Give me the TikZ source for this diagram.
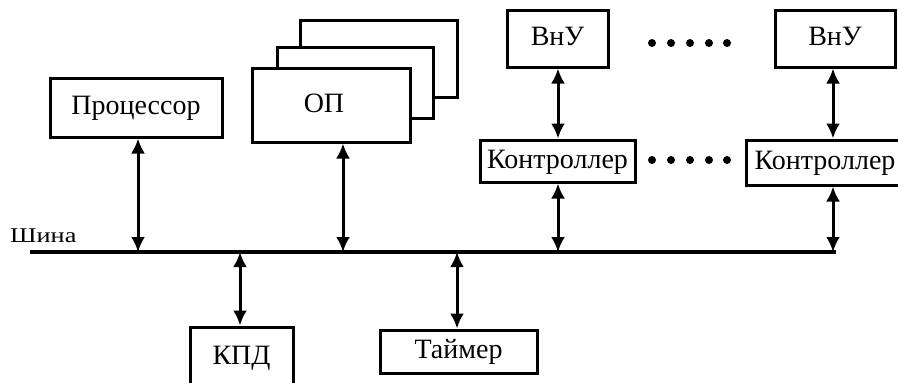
\documentclass[tikz,border=0pt]{standalone}
\usepackage{fontspec}
\setmainfont{Liberation Serif}
\usetikzlibrary{arrows.meta}
\tikzset{
  blk/.style={draw, line width=3pt, fill=white, inner sep=0pt, text height=19pt, text depth=5pt,
    font=\fontsize{28}{32}\selectfont},
  conn/.style={line width=3pt, {Latex[length=15pt,width=14pt]}-{Latex[length=15pt,width=14pt]}},
  busline/.style={line width=3.4pt},
  dotmark/.style={fill=black}
}
\begin{document}
\begin{tikzpicture}[x=1pt, y=-1pt]
\useasboundingbox (0,0) rectangle (898,383);
\clip (0,0) rectangle (898,383);
% memory stack
\draw[line width=3pt, fill=white] (300,20) rectangle (457,97);
\draw[line width=3pt, fill=white] (277,47) rectangle (433,118);
\node[blk, minimum width=158pt, minimum height=74pt] (op) at (331,105) {\hspace*{-14pt}ОП};
\node[blk, minimum width=172pt, minimum height=59pt] (proc) at (136,107.5) {Процессор};
\node[blk, minimum width=101pt, minimum height=57pt] (vnu1) at (557.5,38.5) {ВнУ};
\node[blk, minimum width=120pt, minimum height=57pt] (vnu2) at (835,38.5) {ВнУ};
\node[blk, minimum width=155pt, minimum height=42pt] (ctl1) at (557.5,161) {Контроллер};
\node[blk, minimum width=158pt, minimum height=45pt] (ctl2) at (825,162.5) {Контроллер};
\node[blk, minimum width=157pt, minimum height=43pt] (tmr) at (458.5,351.5) {Таймер};
\node[blk, minimum width=103pt, minimum height=60pt] (kpd) at (241.5,357) {КПД};
% bus
\coordinate (busL) at (30,252);
\coordinate (busR) at (836,252);
\draw[busline] (busL) -- (busR);
\node[font=\fontsize{21}{24}\selectfont, anchor=base west, inner sep=0pt] (shina) at (10,242) {\scalebox{1.25}[1]{Шина}};
\coordinate (bproc) at (138,252);
\coordinate (bop) at (343,252);
\coordinate (bkpd) at (240,252);
\coordinate (btmr) at (457,252);
\coordinate (bc1) at (558,252);
\coordinate (bc2) at (833,252);
\draw[conn] (bproc |- proc.south) -- (bproc);
\draw[conn] (bop |- op.south) -- (bop);
\draw[conn] (bkpd) -- (bkpd |- kpd.north);
\draw[conn] (btmr) -- (btmr |- tmr.north);
\draw[conn] (bc1 |- ctl1.south) -- (bc1);
\draw[conn] (bc2 |- ctl2.south) -- (bc2);
\draw[conn] (bc1 |- vnu1.south) -- (bc1 |- ctl1.north);
\draw[conn] (bc2 |- vnu2.south) -- (bc2 |- ctl2.north);
% dots
\foreach \x in {652,671,690,709,727} {
  \fill[dotmark] (\x,43) circle (4pt);
  \fill[dotmark] (\x,160) circle (4pt);
}
\end{tikzpicture}
\end{document}
